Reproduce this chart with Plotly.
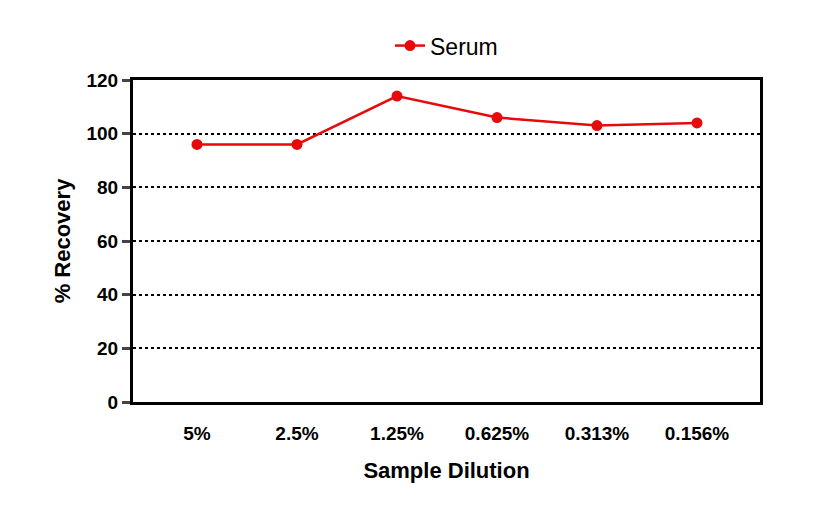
import plotly.graph_objects as go

dilutions = ["5%", "2.5%", "1.25%", "0.625%", "0.313%", "0.156%"]
recovery = [96, 96, 114, 106, 103, 104]

fig = go.Figure()
fig.add_trace(go.Scatter(x=list(range(len(dilutions))), y=recovery, mode="lines+markers",
                         name="Serum", line=dict(color="#e8090b", width=2.5),
                         marker=dict(size=11, color="#e8090b")))

fig.update_layout(
    width=833, height=507, paper_bgcolor="white", plot_bgcolor="white",
    margin=dict(l=125, r=81, t=72, b=113, autoexpand=False),
    font=dict(family="Liberation Sans, Arial", color="black", size=19),
    showlegend=True,
    legend=dict(orientation="h", x=0.5, xanchor="center", y=1.04, yanchor="bottom",
                font=dict(size=23)),
)
fig.update_xaxes(tickvals=list(range(len(dilutions))), ticktext=["<b>%s</b>" % d for d in dilutions],
                 range=[-0.64, 5.63], showgrid=False, showline=True, linecolor="black",
                 linewidth=3, mirror=True, ticks="", ticklabelstandoff=12, automargin=False,
                 title=dict(text="<b>Sample Dilution</b>", font=dict(size=22), standoff=20))
fig.update_yaxes(range=[0, 120], tickvals=[0, 20, 40, 60, 80, 100, 120],
                 ticktext=["<b>%d</b>" % v for v in [0, 20, 40, 60, 80, 100, 120]],
                 showgrid=True, gridcolor="black", griddash="dot", gridwidth=1.5,
                 showline=True, linecolor="black", linewidth=3, mirror=True, automargin=False,
                 ticks="outside", ticklen=8, tickwidth=3, zeroline=False,
                 title=dict(text="<b>% Recovery</b>", font=dict(size=22), standoff=10))

fig.write_html("out.html")
